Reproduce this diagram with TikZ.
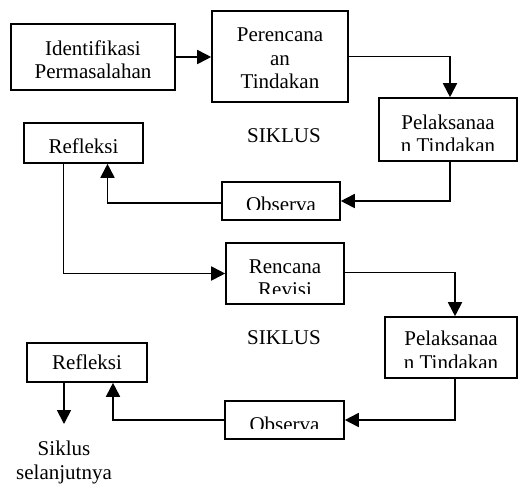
\documentclass[tikz,border=0pt]{standalone}
\usepackage{fontspec}
\setmainfont{Liberation Serif}
\usetikzlibrary{arrows.meta,calc,positioning}

\begin{document}
\begin{tikzpicture} [x=1pt,y=-1pt,{kotak/.style={rectangle,draw=black,line width=1.6pt,inner sep=0pt}},{teks/.style={font=\fontsize{21}{23.5}\selectfont,align=center,inner sep=0pt}},{panah/.style={-{Triangle[length=14pt,width=14pt]},line width=1.8pt}},{tulis/.style 2 args={path picture={\node [teks] at ([yshift=-#1]path picture bounding box.center) {#2};}}},{isi/.style 2 args={path picture={\clip (path picture bounding box.north west) rectangle ([yshift=11pt]path picture bounding box.south east); \node [teks] at ([yshift=-#1]path picture bounding box.center) {#2};}}}]
		\useasboundingbox (0,0) rectangle (518,485);
		%% siklus 1
		\node at (93,57) [kotak,minimum width=164pt,minimum height=66pt,tulis={2.5pt}{Identifikasi\\Permasalahan}] (identifikasi) {};
		\node at (280,56.5) [kotak,minimum width=136pt,minimum height=91pt,tulis={1.75pt}{Perencana\\an\\Tindakan}] (perencanaan) {};
		\node at (448,129.5) [kotak,minimum width=138pt,minimum height=63pt,isi={4.5pt}{Pelaksanaa\\n Tindakan}] (pelaksanaan1) {};
		\node at (281,201) [kotak,minimum width=118pt,minimum height=38pt,isi={3pt}{Observa}] (observasi1) {};
		\node at (83.5,143) [kotak,minimum width=119pt,minimum height=40pt,isi={3pt}{Refleksi}] (refleksi1) {};
		\node at (284,136) [teks] (siklus1) {SIKLUS};
		
		%% siklus 2
		\node at (285,273.5) [kotak,minimum width=118pt,minimum height=61pt,isi={4.5pt}{Rencana\\Revisi}] (revisi) {};
		\node at (451,347.5) [kotak,minimum width=132pt,minimum height=61pt,isi={3pt}{Pelaksanaa\\n Tindakan}] (pelaksanaan2) {};
		\node at (284.5,420) [kotak,minimum width=119pt,minimum height=38pt,isi={4pt}{Observa}] (observasi2) {};
		\node at (87,362.5) [kotak,minimum width=120pt,minimum height=39pt,teks] (refleksi2) {Refleksi};
		\node at (284,338) [teks] (siklus2) {SIKLUS};
		\node at (64,462.5) [teks] (lanjut) {Siklus\\selanjutnya};
		\coordinate (ujung) at (64,424);
		
		%% panah
		\draw [panah] (identifikasi.east) -- (identifikasi.east -| perencanaan.west);
		\draw [panah] (perencanaan.east) -| ([xshift=2pt]pelaksanaan1.north);
		\draw [panah] ([xshift=2pt]pelaksanaan1.south) |- (observasi1.east);
		\draw [panah] ([yshift=-2pt]observasi1.west) -| ([xshift=24pt]refleksi1.south);
		\draw [panah] ([xshift=-20pt]refleksi1.south) |- (revisi.west);
		\draw [panah] ([yshift=1pt]revisi.east) -| ([xshift=4pt]pelaksanaan2.north);
		\draw [panah] ([xshift=4pt]pelaksanaan2.south) |- (observasi2.east);
		\draw [panah] (observasi2.west) -| ([xshift=26pt]refleksi2.south);
		\draw [panah] ([xshift=-23pt]refleksi2.south) -- (ujung);
		
	\end{tikzpicture}
\end{document}
